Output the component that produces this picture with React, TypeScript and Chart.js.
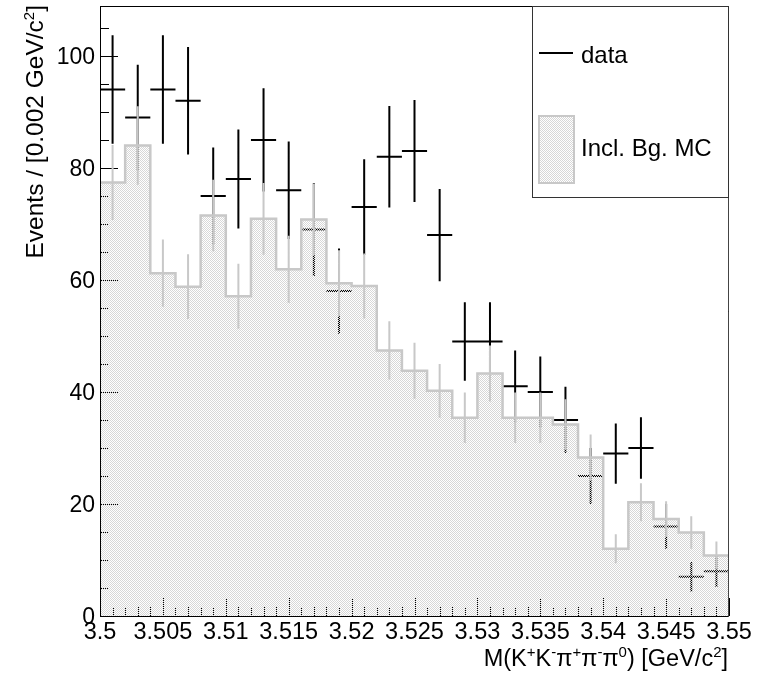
import React, { useEffect, useRef } from "react";
import { Chart, registerables } from "chart.js";

Chart.register(...registerables);

// ---------------- data ----------------
const binCenters = [
  3.501, 3.503, 3.505, 3.507, 3.509, 3.511, 3.513, 3.515, 3.517, 3.519,
  3.521, 3.523, 3.525, 3.527, 3.529, 3.531, 3.533, 3.535, 3.537, 3.539,
  3.541, 3.543, 3.545, 3.547, 3.549,
];
const binWidth = 0.002;

const dataCounts = [
  94, 89, 94, 92, 75, 78, 85, 76, 69, 58,
  73, 82, 83, 68, 49, 49, 41, 40, 35, 25,
  29, 30, 16, 7, 8,
];

const mcValues = [
  77.4, 84.0, 61.2, 58.8, 71.5, 57.1, 70.9, 61.9, 70.8, 59.4,
  58.9, 47.4, 43.8, 40.2, 35.4, 43.3, 35.4, 35.4, 34.2, 28.3,
  12.0, 20.3, 17.3, 14.9, 10.8,
];

const mcErrors = [
  6.7, 7.0, 6.0, 5.8, 6.4, 5.8, 6.4, 6.0, 6.4, 5.9,
  5.8, 5.2, 5.0, 4.8, 4.5, 5.0, 4.5, 4.5, 4.5, 4.1,
  2.6, 3.4, 3.2, 2.9, 2.5,
];

const xTickValues = [3.5, 3.505, 3.51, 3.515, 3.52, 3.525, 3.53, 3.535, 3.54, 3.545, 3.55];
const xTickLabels = ["3.5", "3.505", "3.51", "3.515", "3.52", "3.525", "3.53", "3.535", "3.54", "3.545", "3.55"];
const yTickValues = [0, 20, 40, 60, 80, 100];
const yTickLabels = ["0", "20", "40", "60", "80", "100"];

const xMin = 3.5;
const xMax = 3.55;
const yMin = 0;
const yMax = 108.9;

const legendLabels = ["data", "Incl. Bg. MC"];

const FONT = '"Liberation Sans", Arial, Helvetica, sans-serif';
const MC_LINE = "#c8c8c8";

function makePattern(): CanvasPattern | string {
  const c = document.createElement("canvas");
  c.width = 2;
  c.height = 2;
  const g = c.getContext("2d");
  if (!g) return "#ebebeb";
  g.fillStyle = "#d7d7d7";
  g.fillRect(0, 0, 1, 1);
  g.fillRect(1, 1, 1, 1);
  const p = g.createPattern(c, "repeat");
  return p || "#ebebeb";
}

type Piece = { t: string; sup?: boolean };

function drawRich(
  ctx: CanvasRenderingContext2D,
  pieces: Piece[],
  size: number,
  supSize: number,
  supRaise: number,
  xEnd: number,
  yBase: number
) {
  // right-aligned text ending at xEnd
  const widths = pieces.map((p) => {
    ctx.font = `${p.sup ? supSize : size}px ${FONT}`;
    return ctx.measureText(p.t).width;
  });
  const total = widths.reduce((a, b) => a + b, 0);
  let x = xEnd - total;
  ctx.textAlign = "left";
  ctx.textBaseline = "alphabetic";
  pieces.forEach((p, i) => {
    ctx.font = `${p.sup ? supSize : size}px ${FONT}`;
    ctx.fillText(p.t, x, p.sup ? yBase - supRaise : yBase);
    x += widths[i];
  });
}

export default function App() {
  const canvasRef = useRef<HTMLCanvasElement | null>(null);

  useEffect(() => {
    const canvas = canvasRef.current;
    if (!canvas) return;
    const pattern = makePattern();

    const dataPoints = binCenters.map((x, i) => ({ x, y: dataCounts[i] }));
    const mcStep = binCenters.map((c, i) => ({ x: c - binWidth / 2, y: mcValues[i] }));
    mcStep.push({ x: binCenters[binCenters.length - 1] + binWidth / 2, y: mcValues[mcValues.length - 1] });

    const rootPlugin = {
      id: "rootStyle",
      beforeDatasetsDraw(chart: any) {
        const ctx: CanvasRenderingContext2D = chart.ctx;
        const xs = chart.scales.x;
        const ys = chart.scales.y;
        const area = chart.chartArea;
        ctx.save();
        // ticks
        ctx.strokeStyle = "#000";
        ctx.lineWidth = 1;
        ctx.beginPath();
        for (let k = 0; k <= 50; k++) {
          const v = xMin + k * 0.001;
          const px = Math.round(xs.getPixelForValue(v)) + 0.5;
          const len = k % 5 === 0 ? 18 : 9;
          ctx.moveTo(px, area.bottom);
          ctx.lineTo(px, area.bottom - len);
        }
        for (let k = 0; k <= 21; k++) {
          const v = k * 5;
          const py = Math.round(ys.getPixelForValue(v)) + 0.5;
          const len = k % 4 === 0 ? 18 : 9;
          ctx.moveTo(area.left, py);
          ctx.lineTo(area.left + len, py);
        }
        ctx.stroke();

        // data crosses
        ctx.beginPath();
        ctx.rect(area.left, area.top, area.right - area.left, area.bottom - area.top);
        ctx.clip();
        const meta = chart.getDatasetMeta(0);
        ctx.strokeStyle = "#000";
        ctx.lineWidth = 2;
        ctx.beginPath();
        meta.data.forEach((pt: any, i: number) => {
          const v = dataCounts[i];
          const e = Math.sqrt(v);
          const xl = xs.getPixelForValue(binCenters[i] - binWidth / 2);
          const xr = xs.getPixelForValue(binCenters[i] + binWidth / 2);
          ctx.moveTo(xl, pt.y);
          ctx.lineTo(xr, pt.y);
          ctx.moveTo(pt.x, ys.getPixelForValue(v + e));
          ctx.lineTo(pt.x, ys.getPixelForValue(v - e));
        });
        ctx.stroke();
        ctx.restore();
      },
      afterDatasetsDraw(chart: any) {
        const ctx: CanvasRenderingContext2D = chart.ctx;
        const xs = chart.scales.x;
        const ys = chart.scales.y;
        const area = chart.chartArea;
        ctx.save();
        // MC error bars
        ctx.strokeStyle = MC_LINE;
        ctx.lineWidth = 2;
        ctx.beginPath();
        mcValues.forEach((v, i) => {
          const px = xs.getPixelForValue(binCenters[i]);
          ctx.moveTo(px, ys.getPixelForValue(v + mcErrors[i]));
          ctx.lineTo(px, ys.getPixelForValue(v - mcErrors[i]));
        });
        ctx.stroke();

        // frame
        ctx.strokeStyle = "#000";
        ctx.lineWidth = 1;
        ctx.strokeRect(area.left + 0.5, area.top + 0.5, area.right - area.left - 1, area.bottom - area.top);
        ctx.strokeStyle = "#444";
        ctx.beginPath();
        ctx.moveTo(area.right - 0.5, area.top);
        ctx.lineTo(area.right - 0.5, area.bottom + 1);
        ctx.stroke();

        // tick labels
        ctx.fillStyle = "#000";
        ctx.font = `23.5px ${FONT}`;
        ctx.textAlign = "center";
        ctx.textBaseline = "alphabetic";
        xTickValues.forEach((v, i) => {
          ctx.fillText(xTickLabels[i], xs.getPixelForValue(v), area.bottom + 22.5);
        });
        ctx.font = `23px ${FONT}`;
        ctx.textAlign = "right";
        ctx.textBaseline = "middle";
        yTickValues.forEach((v, i) => {
          ctx.fillText(yTickLabels[i], area.left - 5, ys.getPixelForValue(v) + 1.5);
        });

        // x title
        drawRich(
          ctx,
          [
            { t: "M(K" }, { t: "+", sup: true }, { t: "K" }, { t: "-", sup: true },
            { t: "π" }, { t: "+", sup: true }, { t: "π" }, { t: "-", sup: true },
            { t: "π" }, { t: "0", sup: true }, { t: ") [GeV/c" }, { t: "2", sup: true }, { t: "]" },
          ],
          23.5, 15, 9, area.right - 1, 666
        );

        // y title (rotated)
        ctx.save();
        ctx.translate(43, area.top - 1);
        ctx.rotate(-Math.PI / 2);
        drawRich(
          ctx,
          [{ t: "Events / [0.002 GeV/c" }, { t: "2", sup: true }, { t: "]" }],
          24.5, 15, 9, 0, 0
        );
        ctx.restore();

        // legend
        const lx = 532, ly = area.top, lw = area.right - 532, lh = 191;
        ctx.fillStyle = "#fff";
        ctx.fillRect(lx, ly, lw, lh);
        ctx.strokeStyle = "#333";
        ctx.lineWidth = 1;
        ctx.strokeRect(lx + 0.5, ly + 0.5, lw - 1, lh);
        ctx.strokeStyle = "#000";
        ctx.lineWidth = 2;
        ctx.beginPath();
        ctx.moveTo(539, 53);
        ctx.lineTo(573, 53);
        ctx.stroke();
        ctx.fillStyle = pattern as any;
        ctx.fillRect(539, 116, 35, 67);
        ctx.strokeStyle = MC_LINE;
        ctx.lineWidth = 2;
        ctx.strokeRect(539, 116, 35, 67);
        ctx.fillStyle = "#000";
        ctx.font = `24px ${FONT}`;
        ctx.textAlign = "left";
        ctx.textBaseline = "alphabetic";
        ctx.fillText(legendLabels[0], 581, 63);
        ctx.fillText(legendLabels[1], 581, 156);
        ctx.restore();
      },
    };

    const chart = new Chart(canvas, {
      type: "line",
      data: {
        datasets: [
          {
            type: "scatter",
            label: legendLabels[0],
            data: dataPoints,
            pointRadius: 0,
            showLine: false,
            order: 1,
          } as any,
          {
            type: "line",
            label: legendLabels[1],
            data: mcStep,
            stepped: "before",
            fill: "origin",
            backgroundColor: pattern as any,
            borderColor: MC_LINE,
            borderWidth: 2.5,
            pointRadius: 0,
            order: 2,
          } as any,
        ],
      },
      options: {
        animation: false,
        responsive: false,
        devicePixelRatio: 1,
        events: [],
        layout: { padding: { left: 100, right: 36, top: 6, bottom: 57 } },
        scales: {
          x: { type: "linear", min: xMin, max: xMax, display: false },
          y: { type: "linear", min: yMin, max: yMax, display: false },
        },
        plugins: { legend: { display: false }, tooltip: { enabled: false } },
      } as any,
      plugins: [rootPlugin],
    });

    return () => chart.destroy();
  }, []);

  return (
    <div style={{ position: "absolute", left: 0, top: 0, width: 765, height: 673, background: "#fff" }}>
      <canvas ref={canvasRef} width={765} height={673} style={{ width: 765, height: 673, display: "block" }} />
    </div>
  );
}
